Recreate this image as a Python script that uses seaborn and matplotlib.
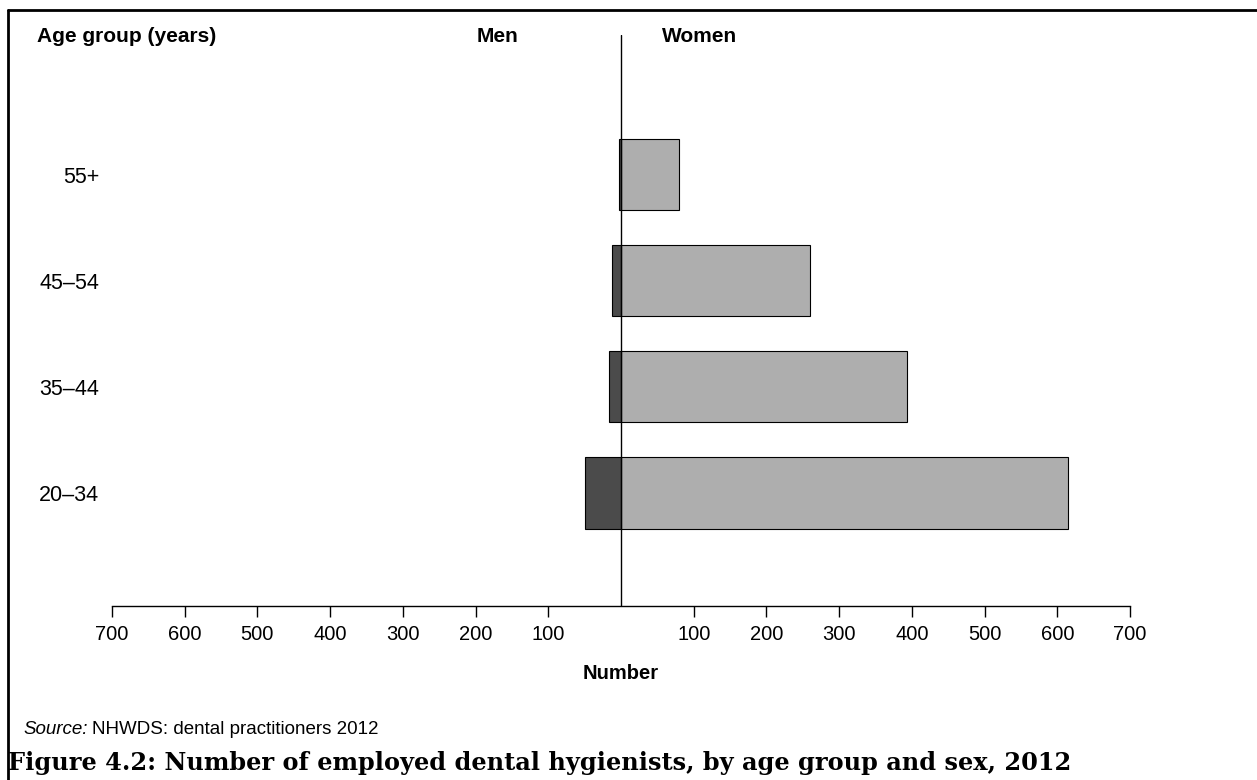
import numpy as np
import pandas as pd
import matplotlib
matplotlib.use('Agg')
import matplotlib.pyplot as plt
from matplotlib.lines import Line2D
import seaborn as sns

# data
age_groups = ['55+', '45–54', '35–44', '20–34']
men = [3, 12, 16, 49]
women = [80, 260, 394, 615]
tick_values = [-700, -600, -500, -400, -300, -200, -100, 100, 200, 300, 400, 500, 600, 700]
tick_labels = ['700', '600', '500', '400', '300', '200', '100', '100', '200', '300', '400', '500', '600', '700']

sns.set_style('white')
plt.rcParams['font.family'] = ['Liberation Sans', 'DejaVu Sans']
plt.rcParams['text.color'] = 'black'
plt.rcParams['xtick.color'] = 'black'
plt.rcParams['ytick.color'] = 'black'
plt.rcParams['axes.labelcolor'] = 'black'

df = pd.DataFrame({'age': age_groups, 'men': [-m for m in men], 'women': women})

W, H = 1257, 780
fig = plt.figure(figsize=(W / 100, H / 100), dpi=100)
ax = fig.add_axes([112 / W, 1 - 606 / H, (1130 - 112) / W, (606 - 35) / H])

sns.barplot(data=df, y='age', x='women', order=age_groups, orient='h', color='#aeaeae',
            saturation=1, width=0.67, edgecolor='black', linewidth=0.8, ax=ax)
sns.barplot(data=df, y='age', x='men', order=age_groups, orient='h', color='#4b4b4b',
            saturation=1, width=0.67, edgecolor='black', linewidth=0.8, ax=ax)

ax.set_xlim(-700, 700)
ax.set_ylim(4.066, -1.32)
ax.axvline(0, color='black', lw=1)

for s in ['top', 'right', 'left']:
    ax.spines[s].set_visible(False)
ax.spines['bottom'].set_color('black')
ax.spines['bottom'].set_linewidth(1)

ax.set_xticks(tick_values)
ax.set_xticklabels(tick_labels, fontsize=14.5)
ax.tick_params(axis='x', bottom=True, direction='out', length=8, width=1, color='black', pad=6)
ax.tick_params(axis='y', left=False, length=0, pad=9, labelsize=15.5)
ax.set_ylabel('')
ax.set_xlabel('Number', fontsize=14.5, fontweight='bold', labelpad=14)

# headers
ty = 1 - 36 / H
fig.text(37 / W, ty, 'Age group (years)', fontsize=15, fontweight='bold', va='center', ha='left')
fig.text(497 / W, ty, 'Men', fontsize=15, fontweight='bold', va='center', ha='center')
fig.text(700 / W, ty, 'Women', fontsize=15, fontweight='bold', va='center', ha='center')

# source
sy = 1 - 729 / H
t1 = fig.text(23 / W, sy, 'Source:', fontsize=13.5, style='italic', va='center', ha='left')
fig.canvas.draw()
bb = t1.get_window_extent()
fig.text((bb.x1 + 4) / W, sy, 'NHWDS: dental practitioners 2012', fontsize=13.5, va='center', ha='left')

# title
fig.text(8 / W, 1 - 763 / H, 'Figure 4.2: Number of employed dental hygienists, by age group and sex, 2012',
         fontsize=17.3, fontweight='bold', family=['DejaVu Serif'], va='center', ha='left')

# frame lines
fig.add_artist(Line2D([8 / W, 1], [1 - 10 / H, 1 - 10 / H], color='black', lw=2, transform=fig.transFigure))
fig.add_artist(Line2D([8 / W, 8 / W], [0, 1 - 10 / H], color='black', lw=2, transform=fig.transFigure))

fig.savefig('out.png', dpi=100)
